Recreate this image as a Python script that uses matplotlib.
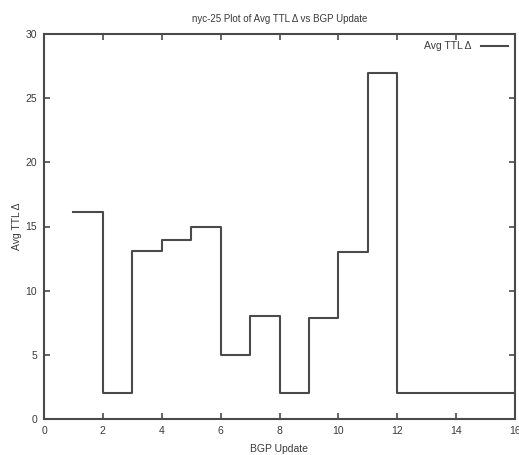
import matplotlib
matplotlib.use("Agg")
from matplotlib import pyplot as plt

# BGP update index and average TTL delta (gnuplot "steps" style)
updates = [1, 2, 3, 4, 5, 6, 7, 8, 9, 10, 11, 12, 13, 14, 15, 16]
avg_ttl_delta = [16.1, 2, 13.1, 13.95, 15, 5, 8, 2, 7.85, 13, 27, 2, 2, 2, 2, 2]

x_ticks = [0, 2, 4, 6, 8, 10, 12, 14, 16]
y_ticks = [0, 5, 10, 15, 20, 25, 30]

LINE_COLOR = "#4a4a4a"
TEXT_COLOR = "#3a3a3a"

plt.rcParams['font.family'] = ['Liberation Sans', 'DejaVu Sans']

fig = plt.figure(figsize=(5.19, 4.55), dpi=100)
ax = fig.add_axes([44 / 519, 1 - 419 / 455, (515 - 44) / 519, (419 - 34) / 455])

ax.step(updates, avg_ttl_delta, where='post', color=LINE_COLOR, lw=1.5,
        label="Avg TTL Δ")

ax.set_xlim(0, 16)
ax.set_ylim(0, 30)
ax.set_xticks(x_ticks)
ax.set_yticks(y_ticks)
ax.tick_params(direction='in', length=4, width=1.2, top=True, right=True,
               labelsize=7.5, colors=LINE_COLOR, labelcolor=TEXT_COLOR, pad=5)
for s in ax.spines.values():
    s.set_linewidth(1.5)
    s.set_color(LINE_COLOR)

ax.set_title("nyc-25 Plot of Avg TTL Δ vs BGP Update", fontsize=7,
             color=TEXT_COLOR, pad=9)
ax.set_xlabel("BGP Update", fontsize=7.5, color=TEXT_COLOR, labelpad=6)
ax.set_ylabel("Avg TTL Δ", fontsize=7.5, color=TEXT_COLOR, labelpad=2.5)

ax.legend(loc='upper right', frameon=False, fontsize=7.5, markerfirst=False,
          handlelength=2.6, handletextpad=0.9, borderaxespad=0.3,
          labelcolor=TEXT_COLOR)

fig.savefig("out.png", dpi=100)
